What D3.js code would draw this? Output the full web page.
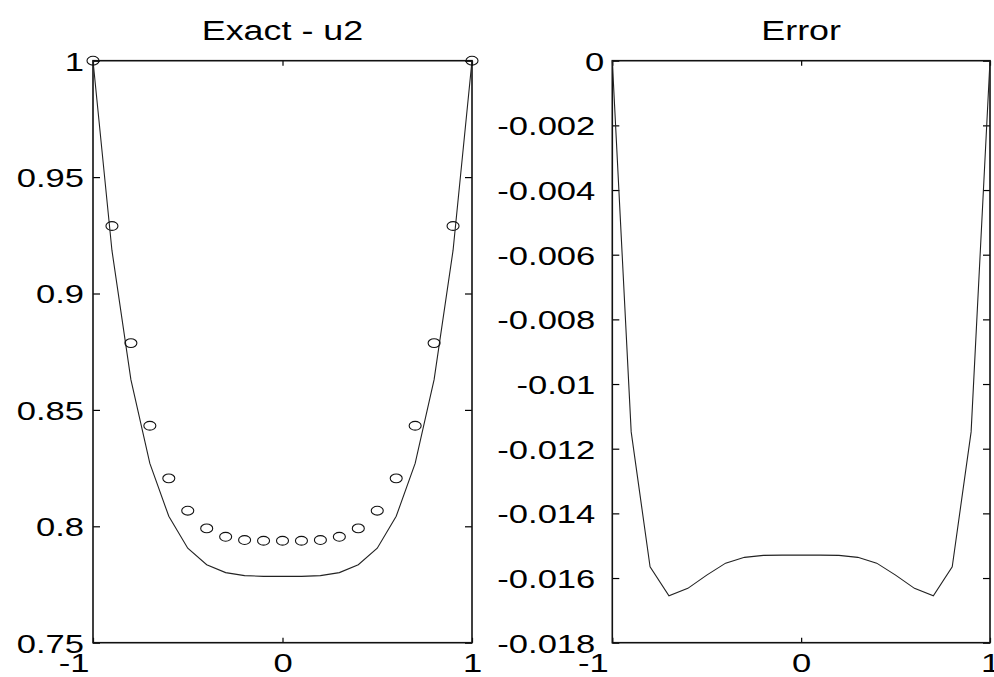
<!DOCTYPE html>
<html>
<head>
<meta charset="utf-8">
<script src="https://d3js.org/d3.v7.min.js"></script>
<style>
  body { margin: 0; background: #fff; }
  text { font-family: "Liberation Sans", Arial, Helvetica, sans-serif; fill: #000; }
</style>
</head>
<body>
<svg width="994" height="677"></svg>
<script>
// grid points and values
var xGrid = [-1, -0.9, -0.8, -0.7, -0.6, -0.5, -0.4, -0.3, -0.2, -0.1, 0,
             0.1, 0.2, 0.3, 0.4, 0.5, 0.6, 0.7, 0.8, 0.9, 1];
var exactU2 = [1, 0.9185, 0.8630, 0.8270, 0.8043, 0.7906, 0.7835, 0.7801, 0.7788, 0.7785, 0.7785,
               0.7785, 0.7788, 0.7801, 0.7835, 0.7906, 0.8043, 0.8270, 0.8630, 0.9185, 1];
var numericU2 = [1, 0.929, 0.8787, 0.8432, 0.8206, 0.8067, 0.7991, 0.7955, 0.7941, 0.7938, 0.7938,
                 0.7938, 0.7941, 0.7955, 0.7991, 0.8067, 0.8206, 0.8432, 0.8787, 0.929, 1];
var errorU2 = [0, -0.01148, -0.01565, -0.01655, -0.01632, -0.01591, -0.01554, -0.01536, -0.01530, -0.01529, -0.01529,
               -0.01529, -0.01530, -0.01536, -0.01554, -0.01591, -0.01632, -0.01655, -0.01565, -0.01148, 0];

var xTicks = [-1, 0, 1];
var xTickLabels = ["-1", "0", "1"];
var leftTicks = [0.75, 0.8, 0.85, 0.9, 0.95, 1];
var leftTickLabels = ["0.75", "0.8", "0.85", "0.9", "0.95", "1"];
var rightTicks = [-0.018, -0.016, -0.014, -0.012, -0.01, -0.008, -0.006, -0.004, -0.002, 0];
var rightTickLabels = ["-0.018", "-0.016", "-0.014", "-0.012", "-0.01", "-0.008", "-0.006", "-0.004", "-0.002", "0"];

var svg = d3.select("svg");
var stretch = 1.33;   // the figure was widened, text too
var plotTop = 60.7, plotBottom = 642.7;

function panel(x0, x1, yDomain, yTicks, yLabels, title, labelGap) {
  var g = svg.append("g");
  var x = d3.scaleLinear().domain([-1, 1]).range([x0, x1]);
  var y = d3.scaleLinear().domain(yDomain).range([plotBottom, plotTop]);

  // left axis, ticks inward
  var ya = g.append("g")
    .attr("transform", "translate(" + x0 + ",0)")
    .call(d3.axisLeft(y).tickValues(yTicks)
      .tickFormat(function (d, i) { return yLabels[i]; })
      .tickSizeInner(-7).tickSizeOuter(0));
  ya.selectAll("text")
    .attr("x", function (d) { return -(d === 0 ? 8 : labelGap) / stretch; })
    .attr("dy", "0.36em")
    .attr("transform", "scale(" + stretch + ",1)")
    .style("font-size", "26px");
  // right side ticks
  g.append("g")
    .attr("transform", "translate(" + x1 + ",0)")
    .call(d3.axisRight(y).tickValues(yTicks).tickFormat("").tickSizeInner(-7).tickSizeOuter(0));

  var xa = g.append("g")
    .attr("transform", "translate(0," + plotBottom + ")")
    .call(d3.axisBottom(x).tickValues(xTicks)
      .tickFormat(function (d, i) { return xTickLabels[i]; })
      .tickSizeInner(-5).tickSizeOuter(0));
  xa.selectAll("text")
    .attr("y", 0)
    .attr("dy", 29)
    .attr("transform", "scale(" + stretch + ",1)")
    .attr("text-anchor", function (d) { return d === -1 ? "end" : "middle"; })
    .attr("x", function (d) { return d === -1 ? -4 / stretch : 0; })
    .style("font-size", "26px");
  g.append("g")
    .attr("transform", "translate(0," + plotTop + ")")
    .call(d3.axisTop(x).tickValues(xTicks).tickFormat("").tickSizeInner(-5).tickSizeOuter(0));

  g.selectAll(".domain").remove();
  g.selectAll(".tick line").attr("stroke", "#000").attr("stroke-width", 1.2);

  g.append("rect")
    .attr("x", x0)
    .attr("y", plotTop)
    .attr("width", x1 - x0)
    .attr("height", plotBottom - plotTop)
    .style("fill", "none")
    .style("stroke", "#111")
    .style("stroke-width", 1.6);

  g.append("text")
    .text(title)
    .attr("text-anchor", "middle")
    .attr("transform", "translate(" + (x0 + x1) / 2 + ",40) scale(" + stretch + ",1)")
    .style("font-size", "27px");

  return { g: g, x: x, y: y };
}

var left = panel(93, 472, [0.75, 1], leftTicks, leftTickLabels, "Exact - u2", 9);
var right = panel(612.3, 990, [-0.018, 0], rightTicks, rightTickLabels, "Error", 17);

var line = function (p, vals) {
  return d3.line()
    .x(function (d, i) { return p.x(xGrid[i]); })
    .y(function (d) { return p.y(d); })(vals);
};

left.g.append("path")
  .attr("d", line(left, exactU2))
  .style("fill", "none")
  .style("stroke", "#222")
  .style("stroke-width", 1.1);

left.g.append("g")
  .selectAll("ellipse")
  .data(numericU2)
  .enter().append("ellipse")
  .attr("cx", function (d, i) { return left.x(xGrid[i]); })
  .attr("cy", function (d) { return left.y(d); })
  .attr("rx", 6)
  .attr("ry", 4.4)
  .style("fill", "none")
  .style("stroke", "#111")
  .style("stroke-width", 1.1);

right.g.append("path")
  .attr("d", line(right, errorU2))
  .style("fill", "none")
  .style("stroke", "#222")
  .style("stroke-width", 1.1);
</script>
</body>
</html>
